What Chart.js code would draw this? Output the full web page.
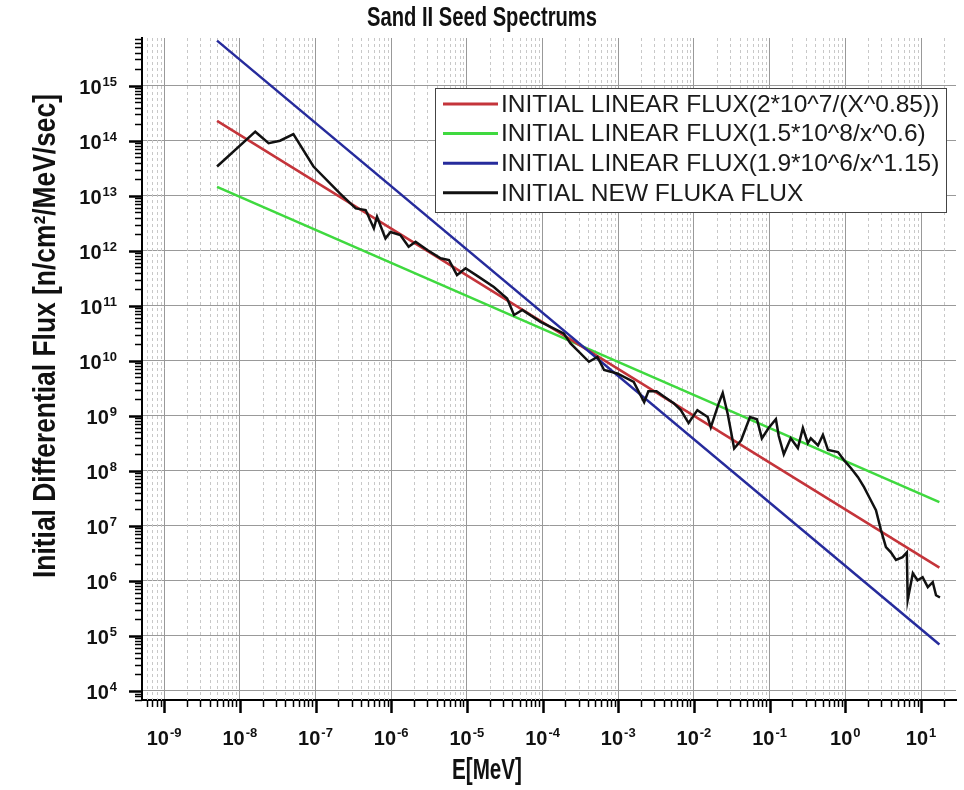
<!DOCTYPE html>
<html>
<head>
<meta charset="utf-8">
<title>Sand II Seed Spectrums</title>
<script src="https://cdn.jsdelivr.net/npm/chart.js@4.4.1/dist/chart.umd.min.js"></script>
<style>
  html, body { margin: 0; padding: 0; background: #fff; }
  #wrap { width: 964px; height: 790px; position: relative; }
</style>
</head>
<body>
<div id="wrap"><canvas id="chart"></canvas></div>
<script>
// tick labels (powers of ten)
const xExponents = ['-9', '-8', '-7', '-6', '-5', '-4', '-3', '-2', '-1', '0', '1'];
const yExponents = ['4', '5', '6', '7', '8', '9', '10', '11', '12', '13', '14', '15'];

const chartTitle = 'Sand II Seed Spectrums';
const xTitle = 'E[MeV]';
const yTitle = 'Initial Differential Flux [n/cm\u00b2/MeV/sec]';

// fitted lines, end points
const lineE = [5e-9, 17.5];
const redFlux = [2.3e14, 1.75e6];
const greenFlux = [1.45e13, 2.7e7];
const blueFlux = [6.6e15, 7.0e4];

// FLUKA spectrum
const flukaE = [
  5.0e-9, 1.6e-8, 2.4e-8, 3.4e-8, 5.1e-8, 9.4e-8, 2.1e-7, 3.4e-7, 4.6e-7, 5.9e-7,
  6.5e-7, 8.4e-7, 9.8e-7, 1.32e-6, 1.7e-6, 2.1e-6, 3.0e-6, 4.5e-6, 5.8e-6, 7.4e-6,
  9.6e-6, 1.37e-5, 2.27e-5, 3.4e-5, 4.2e-5, 5.4e-5, 9.4e-5, 1.9e-4, 2.34e-4, 4.1e-4,
  5.3e-4, 6.5e-4, 9.7e-4, 1.6e-3, 2.2e-3, 2.5e-3, 3.2e-3, 4.1e-3, 5.4e-3, 6.7e-3,
  8.5e-3, 1.11e-2, 1.52e-2, 1.67e-2, 2.13e-2, 2.4e-2, 2.8e-2, 3.4e-2, 4.2e-2, 5.5e-2,
  6.8e-2, 7.9e-2, 9.7e-2, 0.121, 0.132, 0.154, 0.19, 0.236, 0.275, 0.32,
  0.35, 0.435, 0.506, 0.59, 0.80, 0.96, 1.19, 1.47, 1.76, 2.18,
  2.54, 2.96, 3.44, 4.0, 4.67, 5.7, 6.5, 6.67, 7.8, 9.0,
  10.5, 12.3, 14.3, 15.8, 17.8
];
const flukaFlux = [
  3.4e13, 1.46e14, 9.0e13, 1.0e14, 1.32e14, 3.4e13, 1.1e13, 5.9e12, 5.5e12, 2.55e12,
  4.15e12, 1.68e12, 2.2e12, 1.93e12, 1.18e12, 1.46e12, 1.03e12, 7.3e11, 6.8e11, 3.6e11,
  4.8e11, 3.5e11, 2.2e11, 1.36e11, 6.8e10, 8.4e10, 5.1e10, 3.15e10, 2.07e10, 9.6e9,
  1.18e10, 6.8e9, 5.9e9, 4.15e9, 1.77e9, 2.8e9, 2.8e9, 2.2e9, 1.7e9, 1.27e9,
  7.4e8, 1.27e9, 9.5e8, 6.2e8, 1.7e9, 2.6e9, 1.07e9, 2.55e8, 3.6e8, 9.5e8,
  8.7e8, 3.9e8, 6.0e8, 8.7e8, 4.3e8, 2.0e8, 3.9e8, 2.6e8, 6.0e8, 3.2e8,
  3.9e8, 2.9e8, 4.5e8, 2.4e8, 2.2e8, 1.57e8, 1.12e8, 7.7e7, 5.1e7, 2.9e7,
  1.93e7, 8.4e6, 4.1e6, 3.3e6, 2.4e6, 2.7e6, 3.3e6, 4.5e5, 1.38e6, 1.03e6,
  1.17e6, 7.7e5, 9.5e5, 5.5e5, 5.0e5
];

const toPoints = (xs, ys) => xs.map((x, i) => ({ x: x, y: ys[i] }));

const SANS = "'Liberation Sans', Arial, sans-serif";

// 1..9 x 10^n ticks inside the range; powers of ten in the label list are major
function logTicks(min, max, exps) {
  const ticks = [];
  const lo = Math.floor(Math.log10(min));
  const hi = Math.ceil(Math.log10(max));
  for (let d = lo; d <= hi; d++) {
    for (let k = 1; k <= 9; k++) {
      const v = k * Math.pow(10, d);
      if (v < min || v > max) continue;
      ticks.push({ value: v, major: k === 1 && exps.includes(String(d)) });
    }
  }
  return ticks;
}

const majorGrid = (c) => (c.tick && c.tick.major ? '#999999' : 'rgba(0,0,0,0)');

// bold text squeezed to a given length (the original uses a condensed face)
function fittedText(ctx, text, cx, cy, size, length, rotate) {
  ctx.save();
  ctx.font = 'bold ' + size + 'px ' + SANS;
  const w = ctx.measureText(text).width;
  ctx.translate(cx, cy);
  if (rotate) ctx.rotate(-Math.PI / 2);
  ctx.scale(length / w, 1);
  ctx.textAlign = 'center';
  ctx.textBaseline = 'middle';
  ctx.fillText(text, 0, 0);
  ctx.restore();
}

// minor dashed grid, outward ticks, 10^n labels, titles and boxed legend
const plotDecor = {
  id: 'plotDecor',
  beforeDatasetsDraw(chart) {
    const { ctx, chartArea: a, scales: { x } } = chart;
    ctx.save();
    ctx.strokeStyle = '#c8c8c8';
    ctx.lineWidth = 1;
    ctx.setLineDash([3, 3]);
    x.ticks.forEach((t) => {
      if (t.major) return;
      const px = Math.round(x.getPixelForValue(t.value)) + 0.5;
      ctx.beginPath();
      ctx.moveTo(px, a.top);
      ctx.lineTo(px, a.bottom);
      ctx.stroke();
    });
    ctx.restore();
  },
  afterDraw(chart) {
    const { ctx, chartArea: a, scales: { x, y } } = chart;
    ctx.save();
    ctx.strokeStyle = '#000';

    // ticks
    y.ticks.forEach((t) => {
      const py = Math.round(y.getPixelForValue(t.value)) + 0.5;
      ctx.lineWidth = t.major ? 2.5 : 1.5;
      ctx.beginPath();
      ctx.moveTo(a.left - (t.major ? 13 : 7), py);
      ctx.lineTo(a.left, py);
      ctx.stroke();
    });
    x.ticks.forEach((t) => {
      const px = Math.round(x.getPixelForValue(t.value)) + 0.5;
      ctx.lineWidth = t.major ? 2.5 : 1.5;
      ctx.beginPath();
      ctx.moveTo(px, a.bottom);
      ctx.lineTo(px, a.bottom + (t.major ? 13 : 7));
      ctx.stroke();
    });

    // tick labels
    ctx.fillStyle = '#111';
    ctx.textBaseline = 'alphabetic';
    ctx.textAlign = 'left';
    const baseFont = 'bold 20px ' + SANS;
    const expFont = 'bold 13px ' + SANS;
    function label(exp, x0, yBase, yExp) {
      ctx.font = baseFont;
      const w10 = ctx.measureText('10').width;
      ctx.fillText('10', x0, yBase);
      ctx.font = expFont;
      ctx.fillText(exp, x0 + w10 + 1, yExp);
    }
    function labelWidth(exp) {
      ctx.font = baseFont;
      const w10 = ctx.measureText('10').width;
      ctx.font = expFont;
      return w10 + 1 + ctx.measureText(exp).width;
    }
    yExponents.forEach((e) => {
      const py = y.getPixelForValue(Math.pow(10, Number(e)));
      label(e, 117 - labelWidth(e), py + 8, py);
    });
    xExponents.forEach((e) => {
      const px = x.getPixelForValue(Math.pow(10, Number(e)));
      label(e, px - labelWidth(e) / 2, a.bottom + 45, a.bottom + 37);
    });

    // titles
    fittedText(ctx, chartTitle, 482, 19, 27, 230, false);
    fittedText(ctx, xTitle, 487, 771, 30, 70, false);
    fittedText(ctx, yTitle, 46, 336, 31, 484, true);

    // legend
    const box = { left: 435, top: 88, width: 511, height: 124 };
    ctx.fillStyle = '#fff';
    ctx.fillRect(box.left, box.top, box.width, box.height);
    ctx.lineWidth = 1;
    ctx.strokeStyle = '#444';
    ctx.strokeRect(box.left + 0.5, box.top + 0.5, box.width, box.height);
    ctx.font = '24.5px ' + SANS;
    ctx.textBaseline = 'middle';
    ctx.textAlign = 'left';
    chart.data.datasets.forEach((ds, i) => {
      const cy = box.top + 16 + i * 29.6;
      ctx.strokeStyle = ds.borderColor;
      ctx.lineWidth = 3;
      ctx.beginPath();
      ctx.moveTo(box.left + 8, cy);
      ctx.lineTo(box.left + 63, cy);
      ctx.stroke();
      ctx.fillStyle = '#1a1a1a';
      ctx.fillText(ds.label, box.left + 66, cy + 1);
    });
    ctx.restore();
  }
};

const ctx = document.getElementById('chart').getContext('2d');
new Chart(ctx, {
  type: 'line',
  data: {
    datasets: [
      {
        label: 'INITIAL LINEAR FLUX(2*10^7/(X^0.85))',
        data: toPoints(lineE, redFlux),
        borderColor: '#c4343a',
        borderWidth: 2.5,
        order: 2
      },
      {
        label: 'INITIAL LINEAR FLUX(1.5*10^8/x^0.6)',
        data: toPoints(lineE, greenFlux),
        borderColor: '#3fd93f',
        borderWidth: 2.5,
        order: 3
      },
      {
        label: 'INITIAL LINEAR FLUX(1.9*10^6/x^1.15)',
        data: toPoints(lineE, blueFlux),
        borderColor: '#262b9c',
        borderWidth: 2.5,
        order: 1
      },
      {
        label: 'INITIAL NEW FLUKA FLUX',
        data: toPoints(flukaE, flukaFlux),
        borderColor: '#111111',
        borderWidth: 2.5,
        order: 0
      }
    ]
  },
  options: {
    responsive: true,
    maintainAspectRatio: false,
    animation: false,
    elements: { point: { radius: 0 }, line: { tension: 0 } },
    layout: { padding: { left: 0, right: 8, top: 38, bottom: 0 } },
    plugins: {
      legend: { display: false },
      tooltip: { enabled: false }
    },
    scales: {
      x: {
        type: 'logarithmic',
        min: 5.1e-10,
        max: 29,
        afterBuildTicks: (scale) => { scale.ticks = logTicks(scale.min, scale.max, xExponents); },
        afterFit: (scale) => { scale.height = 90; },
        ticks: { display: false },
        grid: { drawTicks: false, color: majorGrid, lineWidth: 1 },
        border: { display: true, color: '#000', width: 2 }
      },
      y: {
        type: 'logarithmic',
        min: 6.86e3,
        max: 7.36e15,
        afterBuildTicks: (scale) => { scale.ticks = logTicks(scale.min, scale.max, yExponents); },
        afterFit: (scale) => { scale.width = 142; },
        ticks: { display: false },
        grid: { drawTicks: false, color: majorGrid, lineWidth: 1 },
        border: { display: true, color: '#000', width: 2 }
      }
    }
  },
  plugins: [plotDecor]
});
</script>
</body>
</html>
